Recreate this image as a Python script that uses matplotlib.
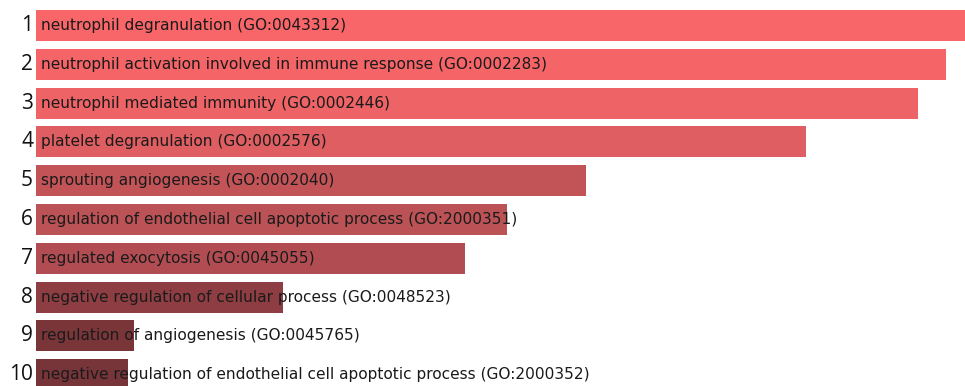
import numpy as np
import matplotlib
matplotlib.use('Agg')
import matplotlib.pyplot as plt

# GO enrichment terms, ranked
terms = ['neutrophil degranulation (GO:0043312)',
         'neutrophil activation involved in immune response (GO:0002283)',
         'neutrophil mediated immunity (GO:0002446)',
         'platelet degranulation (GO:0002576)',
         'sprouting angiogenesis (GO:0002040)',
         'regulation of endothelial cell apoptotic process (GO:2000351)',
         'regulated exocytosis (GO:0045055)',
         'negative regulation of cellular process (GO:0048523)',
         'regulation of angiogenesis (GO:0045765)',
         'negative regulation of endothelial cell apoptotic process (GO:2000352)']
ranks = [str(i) for i in range(1, 11)]
scores = [929, 910, 882, 770, 550, 471, 429, 247, 98, 92]
colors = ['#f96669', '#f56467', '#ee6366', '#de5e61', '#c25457',
          '#bb5256', '#b14d52', '#8e3e43', '#7a3539', '#77353a']

fig = plt.figure(figsize=(9.65, 3.86), dpi=100)
ax = fig.add_axes([36 / 965, 0, 929 / 965, 1])

y = np.arange(len(terms))
ax.barh(y, scores, height=0.8, color=colors, edgecolor='none')
ax.set_xlim(0, 929)
ax.set_ylim(9.29, -0.657)
ax.axis('off')

for i in range(len(terms)):
    ax.text(5, y[i], terms[i], va='center', ha='left', fontsize=11.1,
            family='DejaVu Sans', color='#1a1a1a')
    ax.text(-3, y[i], ranks[i], va='center', ha='right', fontsize=15,
            family='Open Sans', color='#111111', clip_on=False)

fig.savefig('out.png', dpi=100)
